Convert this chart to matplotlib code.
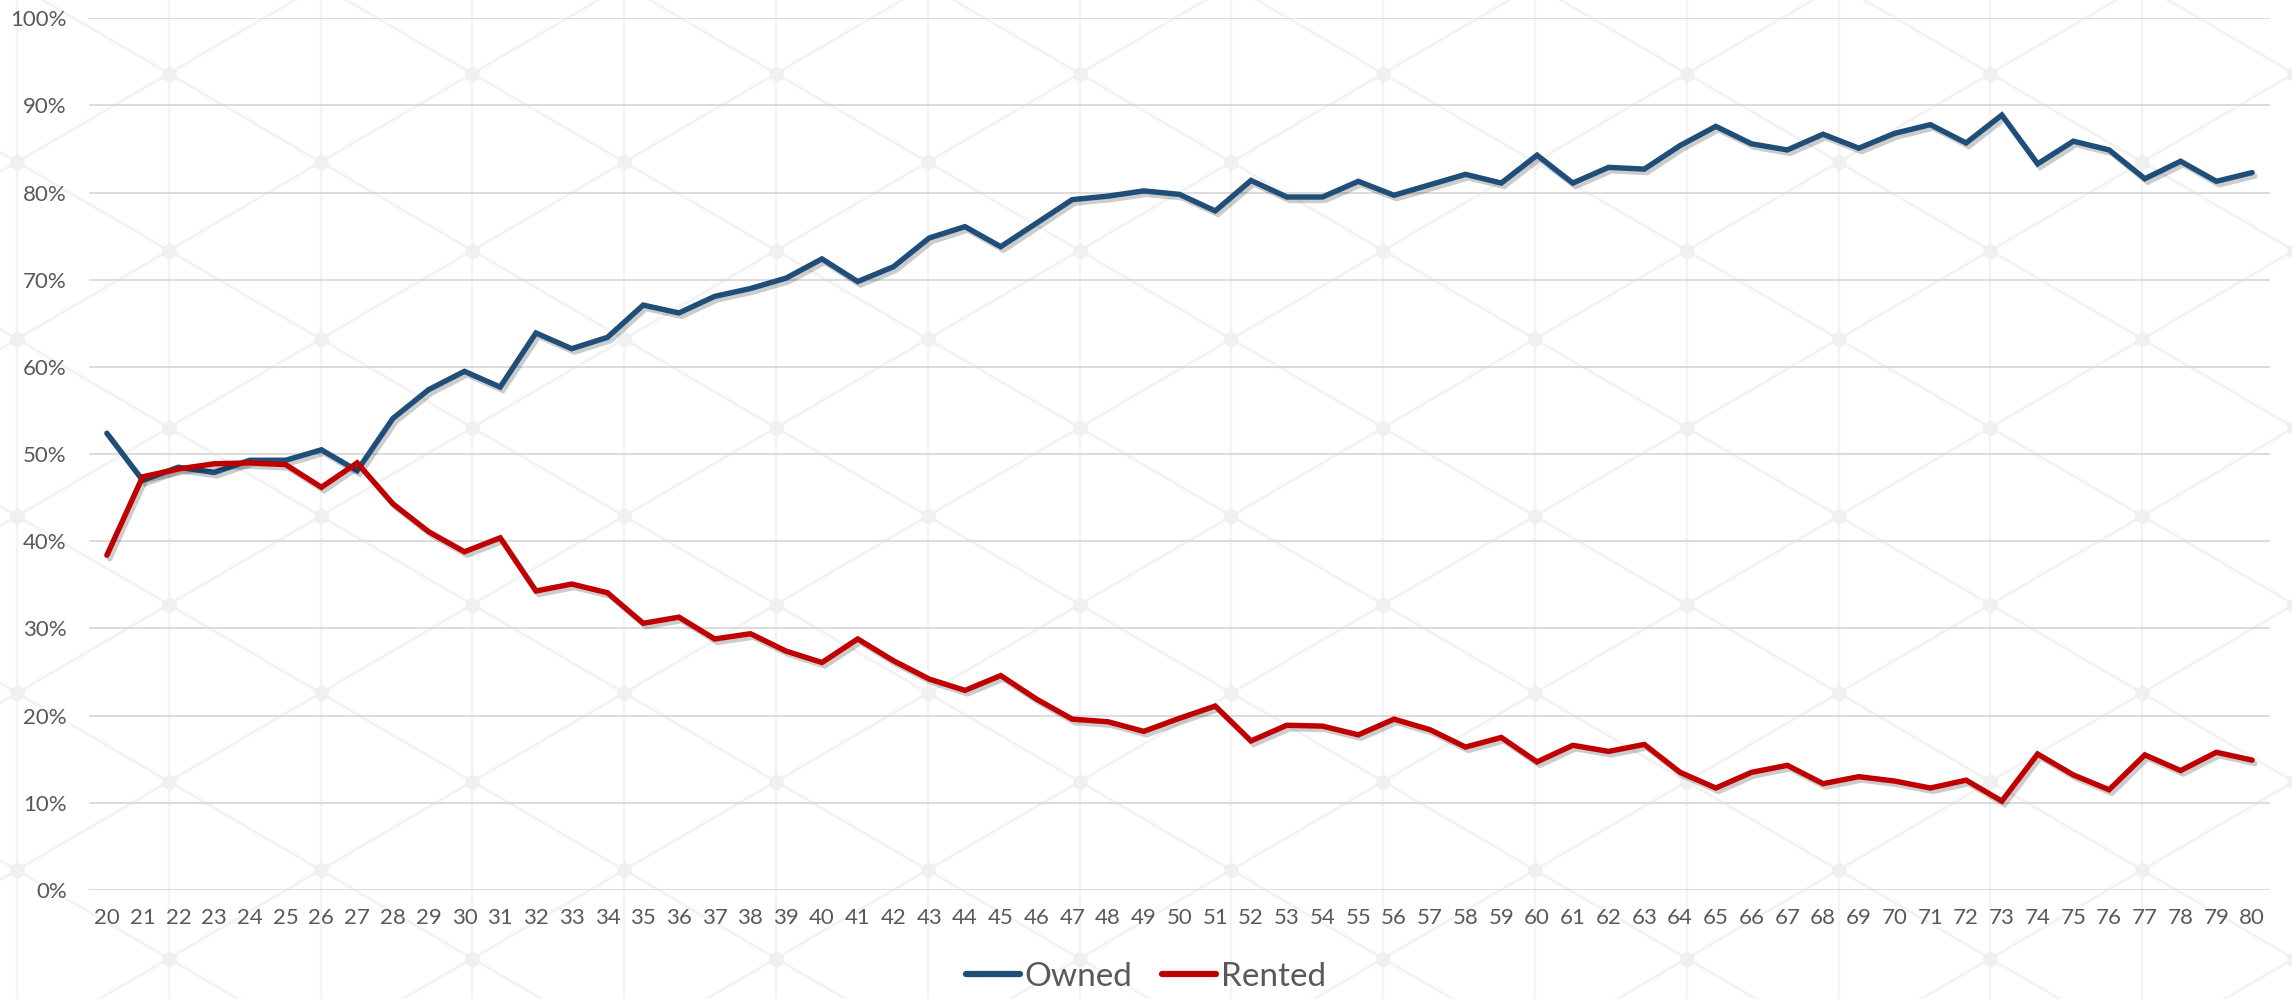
import numpy as np
import matplotlib
matplotlib.use("Agg")
import matplotlib.pyplot as plt
import matplotlib.patheffects as pe
from matplotlib.ticker import PercentFormatter

# Share of households by age of head: owned vs rented (%)
ages = list(range(20, 81))
owned = [52.4, 47.0, 48.5, 47.9, 49.3, 49.3, 50.5, 48.1, 54.1, 57.4,
         59.5, 57.7, 63.9, 62.1, 63.4, 67.1, 66.2, 68.1, 69.0, 70.2,
         72.4, 69.8, 71.5, 74.8, 76.1, 73.8, 76.5, 79.2, 79.6, 80.2,
         79.8, 77.9, 81.4, 79.5, 79.5, 81.3, 79.7, 80.9, 82.1, 81.1,
         84.3, 81.1, 82.9, 82.7, 85.4, 87.6, 85.6, 84.9, 86.7, 85.1,
         86.8, 87.8, 85.7, 88.9, 83.3, 85.9, 84.9, 81.6, 83.6, 81.3,
         82.3]
rented = [38.4, 47.4, 48.3, 48.9, 49.0, 48.8, 46.2, 49.0, 44.3, 41.1,
          38.8, 40.4, 34.3, 35.1, 34.1, 30.6, 31.3, 28.8, 29.4, 27.4,
          26.1, 28.8, 26.3, 24.2, 22.9, 24.6, 21.9, 19.6, 19.3, 18.2,
          19.7, 21.1, 17.1, 18.9, 18.8, 17.8, 19.6, 18.4, 16.4, 17.5,
          14.7, 16.6, 15.9, 16.7, 13.5, 11.7, 13.5, 14.3, 12.2, 13.0,
          12.5, 11.7, 12.6, 10.2, 15.6, 13.2, 11.5, 15.5, 13.7, 15.8,
          14.9]
series_names = ["Owned", "Rented"]
series_colors = ["#1F4E79", "#C00000"]

plt.rcParams["font.family"] = ["Lato", "DejaVu Sans"]

W, H = 2292, 999
fig = plt.figure(figsize=(W / 100, H / 100), dpi=100)

# faint diamond lattice watermark behind the chart
bg = fig.add_axes([0, 0, 1, 1], zorder=-1)
bg.set_xlim(0, W)
bg.set_ylim(H, 0)
bg.axis("off")
pat = "#f3f3f3"
dx, dy = 151.8, 88.5
for k in range(-1, 17):
    x = 17 + k * dx
    bg.plot([x, x], [0, H], color=pat, lw=1.6, zorder=0)
    for m in range(-6, 6):
        y = 693 + dy * (k % 2) + 2 * dy * m
        bg.plot([x, x + dx], [y, y + dy], color=pat, lw=2.0, zorder=0)
        bg.plot([x, x + dx], [y, y - dy], color=pat, lw=2.0, zorder=0)
        bg.plot(x, y, marker="h", ms=12, color="#f0f0f0", mec="none", zorder=1)

ax = fig.add_axes([89 / W, 1 - 890 / H, (2270 - 89) / W, (890 - 18.3) / H])
ax.set_facecolor("none")

shadow = [pe.SimpleLineShadow(offset=(2, -2.5), shadow_color="black", alpha=0.2, rho=1),
          pe.Normal()]
for vals, name, col in zip([owned, rented], series_names, series_colors):
    ax.plot(ages, vals, color=col, lw=3.9, label=name,
            solid_joinstyle="miter", solid_capstyle="round",
            path_effects=shadow, zorder=3)

ax.set_xlim(ages[0] - 0.5, ages[-1] + 0.5)
ax.set_ylim(0, 100)
ax.set_yticks(range(0, 101, 10))
ax.yaxis.set_major_formatter(PercentFormatter(decimals=0))
ax.set_xticks(ages)
ax.set_xticklabels([str(a) for a in ages])
ax.grid(axis="y", color="#d9d9d9", lw=1.3)
ax.grid(axis="x", visible=False)
ax.set_axisbelow(True)
for s in ax.spines.values():
    s.set_visible(False)
ax.tick_params(axis="both", length=0, labelsize=16, labelcolor="#595959")
ax.tick_params(axis="y", pad=16)
ax.tick_params(axis="x", pad=13)

leg = fig.legend(loc="center", bbox_to_anchor=(0.5, 0.022), ncol=2, frameon=False,
                 fontsize=24, handlelength=1.6, handletextpad=0.15,
                 columnspacing=0.9, borderpad=0)
for t in leg.get_texts():
    t.set_color("#595959")
for h in leg.get_lines():
    h.set_path_effects([])
    h.set_linewidth(4.5)

fig.savefig("out.png", dpi=100)
